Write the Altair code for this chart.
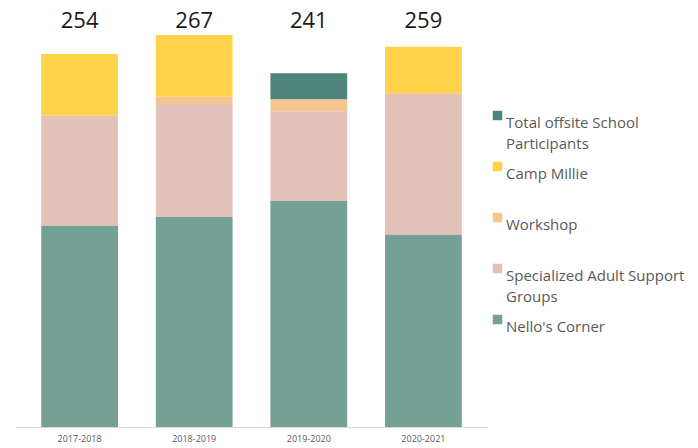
import altair as alt
import pandas as pd

years = ["2017-2018", "2018-2019", "2019-2020", "2020-2021"]
series = ["Total offsite School Participants", "Camp Millie", "Workshop",
          "Specialized Adult Support Groups", "Nello's Corner"]
colors = ["#4E8479", "#FFD24A", "#F8C48E", "#E2C2B8", "#75A095"]
stack_rank = [4, 3, 2, 1, 0]
values = {
    "Nello's Corner": [137, 143, 154, 131],
    "Specialized Adult Support Groups": [75, 77, 61, 96],
    "Workshop": [0, 5, 8, 0],
    "Camp Millie": [42, 42, 0, 32],
    "Total offsite School Participants": [0, 0, 18, 0],
}
totals = [254, 267, 241, 259]

rows = []
for s, r in zip(series, stack_rank):
    for y, v in zip(years, values[s]):
        rows.append({"year": y, "series": s, "value": v, "rank": r})
df = pd.DataFrame(rows)
tdf = pd.DataFrame({"year": years, "total": totals})

x = alt.X("year:N", sort=years, title=None,
          scale=alt.Scale(paddingInner=0.33, paddingOuter=0.22),
          axis=alt.Axis(domainColor="#d9d9d9", ticks=False, labelAngle=0,
                        labelFontSize=9, labelColor="#595959", labelPadding=7,
                        labelFont="Open Sans"))

label_expr = ("datum.label == 'Total offsite School Participants' ? ['Total offsite School', 'Participants'] : "
              "datum.label == 'Specialized Adult Support Groups' ? ['Specialized Adult Support', 'Groups'] : datum.label")

bars = alt.Chart(df).mark_bar().encode(
    x=x,
    y=alt.Y("value:Q", stack="zero", axis=None, scale=alt.Scale(domain=[0, 284], nice=False)),
    color=alt.Color("series:N", scale=alt.Scale(domain=series, range=colors),
                    legend=alt.Legend(title=None, orient="none", legendX=474, legendY=98,
                                      labelExpr=label_expr, labelFont="Open Sans",
                                      labelFontSize=15, labelColor="#595959",
                                      labelLimit=260,
                                      symbolType="square", symbolSize=90, symbolStrokeWidth=0,
                                      labelBaseline="top", gridAlign="all", rowPadding=7,
                                      labelOffset=1)),
    order=alt.Order("rank:Q", sort="ascending"),
)

text = alt.Chart(tdf).mark_text(font="Open Sans", fontSize=22, color="#1a1a1a",
                                baseline="middle").encode(
    x=alt.X("year:N", sort=years),
    y=alt.value(11),
    text="total:Q",
)

chart = alt.layer(bars, text).properties(
    width=471, height=417,
    padding={"left": 8, "top": 2, "right": 0, "bottom": 0},
).configure(
    style={"guide-label": {"lineHeight": 21}}
).configure_view(stroke=None)

chart.save("out.html", embed_options={"renderer": "svg", "actions": False})
